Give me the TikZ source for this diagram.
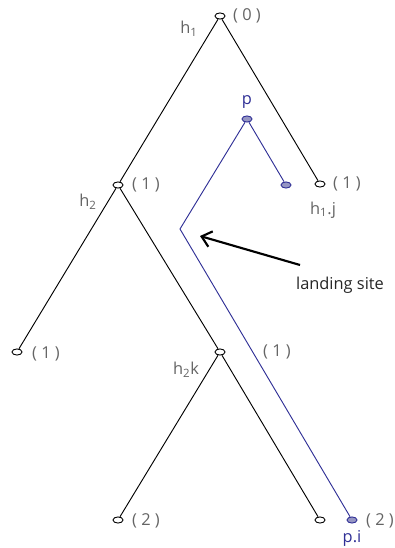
\documentclass[tikz,border=0pt]{standalone}
\usepackage{fontspec}
\setmainfont{Open Sans}
\usetikzlibrary{positioning,arrows.meta,shapes.geometric}

\definecolor{moveblue}{RGB}{48,48,150}
\definecolor{movefill}{RGB}{150,150,195}
\definecolor{labgray}{RGB}{100,100,100}

\begin{document}
\begin{tikzpicture}[
    x=0.75pt, y=-0.75pt,
    knot/.style={ellipse, draw, fill=white, line width=0.7pt, minimum width=7.5pt, minimum height=4.6pt, inner sep=0pt},
    pknot/.style={knot, draw=moveblue, fill=movefill},
    edge/.style={line width=0.7pt},
    moveline/.style={line width=0.7pt, draw=moveblue},
    lab/.style={font=\fontsize{12.3}{14}\selectfont, text=labgray, inner sep=0pt},
    plab/.style={lab, text=moveblue},
    arrow/.style={-{Straight Barb[length=7pt,width=12pt]}, line width=1.6pt}
]
\useasboundingbox (0,0) rectangle (394,548);

% -------- Tree --------
\node[knot] (root) at (220,16) {};
\node[knot] (h2) at (118,185) {};
\node[knot] (h1j) at (320,184) {};
\node[knot] (leafa) at (17,352) {};
\node[knot] (h2k) at (220,352) {};
\node[knot] (leafb) at (118,520) {};
\node[knot] (leafc) at (320,520) {};

% -------- Moved item --------
\node[pknot] (p) at (247,119) {};
\node[pknot] (pkid) at (286,185) {};
\coordinate (bend) at (180,229);
\node[pknot] (pi) at (352,520) {};

% -------- Labels --------
\node[lab] at (189,29) {h\textsubscript{1}};
\node[lab] at (247,16) {( 0 )};
\node[lab] at (146,185) {( 1 )};
\node[lab] at (347,184) {( 1 )};
\node[lab] at (323,210) {h\textsubscript{1}.j};
\node[lab] at (88,202) {h\textsubscript{2}};
\node[lab] at (46,354) {( 1 )};
\node[lab] at (186,370) {h\textsubscript{2}k};
\node[lab] at (277,352) {( 1 )};
\node[lab] at (146,521) {( 2 )};
\node[lab] at (380,521) {( 2 )};
\node[plab] at (247,102) {p};
\node[plab] at (352,538) {p.i};
\node[lab, text=black!85] (site) at (340,285) {landing site};
\coordinate (tail) at (300,265);
\coordinate (land) at (200,236);

% -------- Edges --------
\draw[edge] (root) -- (h2);
\draw[edge] (root) -- (h1j);
\draw[edge] (h2) -- (leafa);
\draw[edge] (h2) -- (h2k);
\draw[edge] (h2k) -- (leafb);
\draw[edge] (h2k) -- (leafc);

\draw[moveline] (p) -- (pkid);
\draw[moveline] (p) -- (bend) -- (pi);

\draw[arrow] (tail) -- (land);

\end{tikzpicture}
\end{document}
